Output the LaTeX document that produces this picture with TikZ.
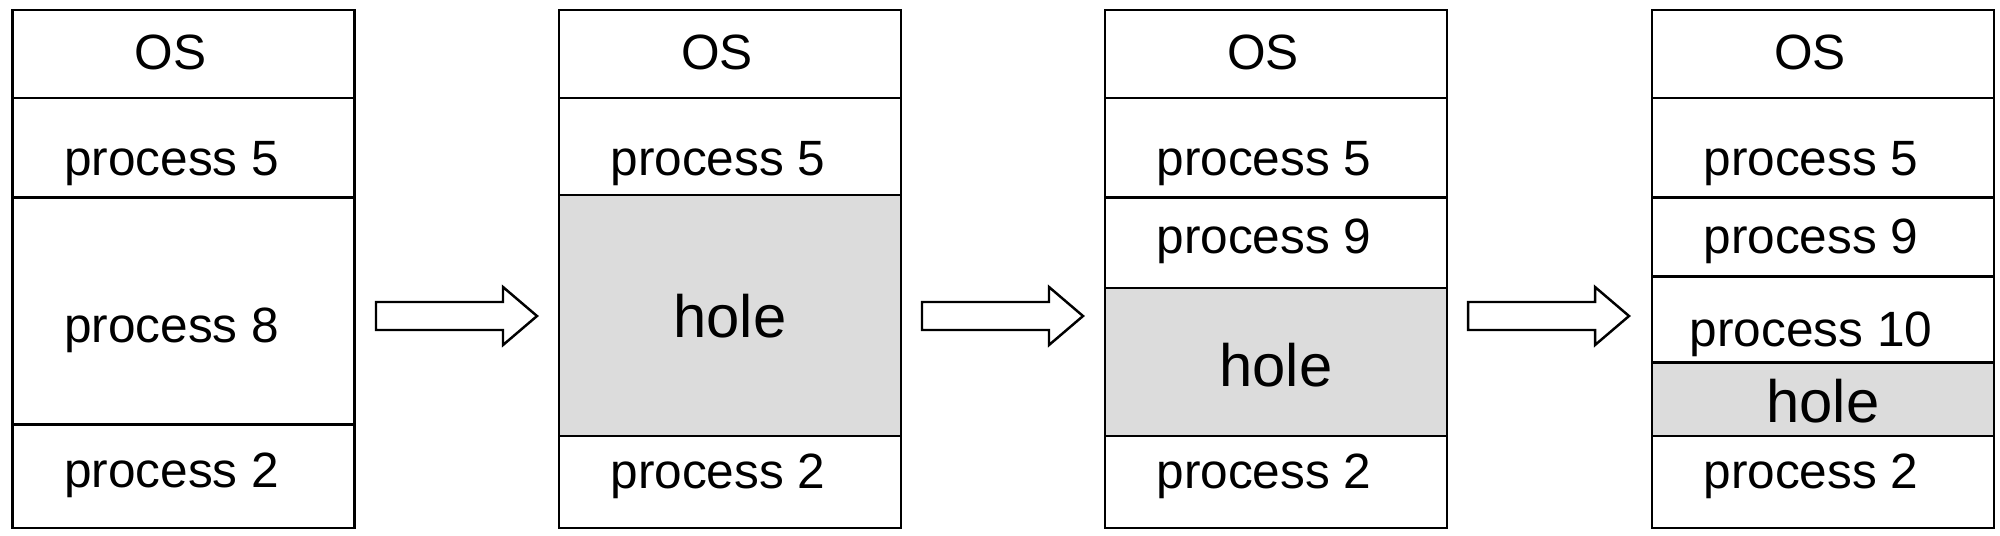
\documentclass[tikz,border=0pt]{standalone}
\usepackage{fontspec}
\setmainfont{Liberation Sans}
\usetikzlibrary{calc}
\definecolor{holegray}{RGB}{220,220,220}
\tikzset{
  memline/.style={line width=0.7pt},
  proc/.style={font=\fontsize{14.1}{16}\selectfont, inner sep=0pt},
  holetext/.style={font=\fontsize{17}{20}\selectfont, inner sep=0pt},
  blockarrow/.style={draw, line width=0.7pt, fill=white}
}

\begin{document}
\begin{tikzpicture}[x=0.01cm,y=-0.01cm]
  \useasboundingbox (0,0) rectangle (2000,535);
  % left top corners of the four memory maps
  \coordinate (m1) at (12.5,10);
  \coordinate (m2) at (559,10);
  \coordinate (m3) at (1105,10);
  \coordinate (m4) at (1652,10);
  % holes first, lines on top
  \fill[holegray] ($(m2)+(0,185)$) rectangle ($(m2)+(342,426)$);
  \fill[holegray] ($(m3)+(0,278)$) rectangle ($(m3)+(342,426)$);
  \fill[holegray] ($(m4)+(0,352.5)$) rectangle ($(m4)+(342,426)$);
  \begin{scope}[memline]
    \foreach \m in {m1,m2,m3,m4}
      \draw (\m) rectangle +(342,518);
    \foreach \y in {88,187.5,414.5}
      \draw ($(m1)+(0,\y)$) -- +(342,0);
    \foreach \y in {88,185,426}
      \draw ($(m2)+(0,\y)$) -- +(342,0);
    \foreach \y in {88,187.5,278,426}
      \draw ($(m3)+(0,\y)$) -- +(342,0);
    \foreach \y in {88,187.5,266.5,352.5,426}
      \draw ($(m4)+(0,\y)$) -- +(342,0);
  \end{scope}
  % first map
  \node[proc] (os1) at ($(m1)+(158,42)$) {OS};
  \node[proc] (p51) at ($(m1)+(159,154)$) {process 5};
  \node[proc] (p81) at ($(m1)+(159,320)$) {process 8};
  \node[proc] (p21) at ($(m1)+(159,465)$) {process 2};
  % second map
  \node[proc] (os2) at ($(m2)+(158,42)$) {OS};
  \node[proc] (p52) at ($(m2)+(159,154)$) {process 5};
  \node[holetext] (h2) at ($(m2)+(171,306)$) {hole};
  \node[proc] (p22) at ($(m2)+(159,466)$) {process 2};
  % third map
  \node[proc] (os3) at ($(m3)+(158,42)$) {OS};
  \node[proc] (p53) at ($(m3)+(159,154)$) {process 5};
  \node[proc] (p93) at ($(m3)+(159,231)$) {process 9};
  \node[holetext] (h3) at ($(m3)+(171,355)$) {hole};
  \node[proc] (p23) at ($(m3)+(159,466)$) {process 2};
  % fourth map
  \node[proc] (os4) at ($(m4)+(158,42)$) {OS};
  \node[proc] (p54) at ($(m4)+(159,154)$) {process 5};
  \node[proc] (p94) at ($(m4)+(159,231)$) {process 9};
  \node[proc] (p104) at ($(m4)+(159,324)$) {process 10};
  \node[holetext] (h4) at ($(m4)+(171,391)$) {hole};
  \node[proc] (p24) at ($(m4)+(159,466)$) {process 2};
  % arrows between the maps
  \foreach \a in {376,922,1468}
    \draw[blockarrow] (\a,302) -- ++(127,0) -- ++(0,-15) -- ++(34,29)
      -- ++(-34,29) -- ++(0,-15) -- ++(-127,0) -- cycle;
\end{tikzpicture}
\end{document}
